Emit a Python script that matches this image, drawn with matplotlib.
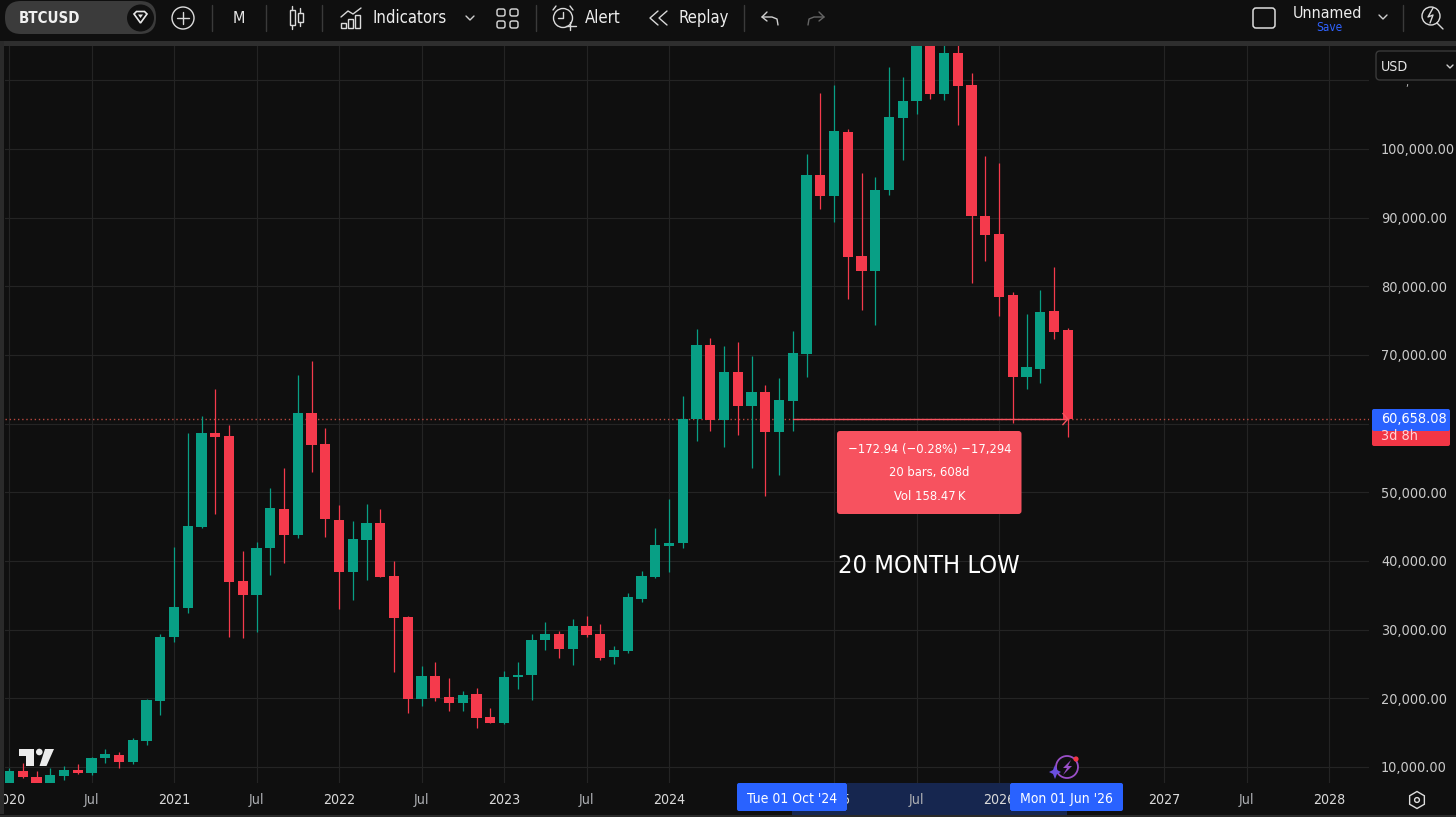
import matplotlib
matplotlib.use("Agg")
import matplotlib.pyplot as plt
from matplotlib.patches import Rectangle, FancyBboxPatch, Circle, Polygon, RegularPolygon
from matplotlib.ticker import FixedLocator, FixedFormatter

plt.rcParams['font.family'] = ['DejaVu Sans']
plt.rcParams['font.stretch'] = 'condensed'

# ---- data: monthly BTCUSD candles, Jan 2020 .. Jun 2026 ----
opens = [7714, 9418, 8544, 7714, 8690, 9520, 9083, 11310, 11747, 10728, 13786, 19653,
         28884, 33194, 44987, 58674, 58150, 37125, 35043, 41843, 47521, 43779, 61586, 57029,
         45963, 38392, 43051, 45570, 37810, 31884, 19901, 23293, 20148, 19362, 20585, 17236,
         16450, 23060, 23352, 28491, 29365, 27181, 30530, 29365, 25972, 26890, 34504, 37664,
         42221, 42571, 60669, 71400, 60567, 67512, 62562, 64600, 58820, 63290, 70133, 96239,
         93181, 102412, 84402, 82261, 94011, 104537, 107013, 115700, 107989, 113915, 109299, 90269,
         87561, 78723, 66829, 67949, 76350, 73627]
highs = [9811, 10626, 9418, 9854, 10189, 10437, 11500, 12577, 12228, 14266, 19901, 29365,
         42076, 58587, 61106, 65037, 59795, 41450, 42804, 50579, 53491, 67075, 69114, 59315,
         48147, 45818, 48249, 47565, 40037, 31986, 24749, 25332, 22915, 21066, 21459, 18547,
         24021, 25244, 29321, 31156, 29802, 31505, 31986, 30821, 27618, 35291, 38538, 44755,
         49021, 64018, 73773, 72419, 71298, 71924, 69885, 65619, 66595, 73482, 99253, 108178,
         109299, 102849, 96443, 95860, 111876, 110507, 119000, 124400, 117900, 126000, 111003, 98962,
         97899, 79204, 75957, 79451, 82756, 73875]
lows = [7670, 8450, 7670, 7700, 8107, 8981, 8879, 10539, 9898, 10437, 13160, 17615,
        28156, 32379, 44842, 46837, 28884, 28739, 29700, 37955, 39746, 43299, 52996, 43444,
        32961, 34315, 37227, 37664, 23876, 17819, 18925, 19566, 18197, 18197, 15635, 16363,
        16261, 21357, 19755, 27035, 25914, 24851, 28972, 25579, 24997, 26642, 34068, 37500,
        38436, 41843, 57466, 58965, 56635, 58339, 53491, 49501, 52515, 58922, 66829, 91245,
        89308, 78097, 76539, 74355, 93283, 98379, 105077, 107217, 107115, 103432, 80427, 83717,
        75666, 60042, 64993, 65867, 72317, 58092]
closes = [9418, 8500, 7670, 8835, 9520, 9083, 11310, 11893, 10772, 13931, 19755, 28972,
          33296, 45133, 58674, 58004, 36980, 35043, 41843, 47667, 43779, 61586, 56883, 46109,
          38392, 43197, 45570, 37664, 31738, 19901, 23293, 20046, 19362, 20527, 17134, 16450,
          23148, 23439, 28535, 29365, 27181, 30530, 29219, 25914, 27035, 34752, 37810, 42367,
          42614, 60712, 71400, 60523, 67512, 62562, 64600, 58820, 63392, 70278, 96239, 93181,
          102602, 84212, 82261, 94011, 104640, 107013, 115700, 107989, 113915, 109197, 90226, 87416,
          78432, 66784, 68197, 76204, 73380, 60658]

x_tick_months = [0, 6, 12, 18, 24, 30, 36, 42, 48, 60, 66, 72, 84, 90, 96]
x_tick_labels = ['2020', 'Jul', '2021', 'Jul', '2022', 'Jul', '2023', 'Jul', '2024',
                 '2025', 'Jul', '2026', '2027', 'Jul', '2028']
price_ticks = [10000, 20000, 30000, 40000, 50000, 60000, 70000, 80000, 90000, 100000, 110000]
price_labels = ['10,000.00', '20,000.00', '30,000.00', '40,000.00', '50,000.00', '',
                '70,000.00', '80,000.00', '90,000.00', '100,000.00', '']
last_price = 60658.08
measure_start = 57
measure_end = 77

BG = '#0f0f0f'
GREEN = '#089f85'
RED = '#f53a4c'
GRID = '#242424'
W, H = 1456, 817

fig = plt.figure(figsize=(W / 100, H / 100), dpi=100, facecolor=BG)

# pixel-to-data frame of the chart pane
PX0, PX1, PY0, PY1 = 5, 1369, 45.5, 783
step = 13.75
x_at = 9
ppp = 145.6
ax = fig.add_axes([PX0 / W, 1 - PY1 / H, (PX1 - PX0) / W, (PY1 - PY0) / H], facecolor=BG)
ax.set_xlim((PX0 - x_at) / step, (PX1 - x_at) / step)
ax.set_ylim(10000 + (767 - PY1) * ppp, 10000 + (767 - PY0) * ppp)
for s in ax.spines.values():
    s.set_visible(False)

ax.xaxis.set_major_locator(FixedLocator(x_tick_months))
ax.xaxis.set_major_formatter(FixedFormatter(x_tick_labels))
ax.yaxis.set_major_locator(FixedLocator(price_ticks))
ax.yaxis.set_major_formatter(FixedFormatter(price_labels))
ax.yaxis.tick_right()
ax.tick_params(axis='y', length=0, pad=8.6, labelsize=10.4, labelcolor='#cacaca')
ax.tick_params(axis='x', length=0, pad=7.5, labelsize=10.2)
for lab in ax.get_xticklabels():
    lab.set_color('#aeb0b4' if lab.get_text() == 'Jul' else '#dadada')
ax.grid(True, color=GRID, lw=0.8)
ax.set_axisbelow(True)

months = list(range(len(opens)))
colors = [GREEN if c >= o else RED for o, c in zip(opens, closes)]
ax.vlines(months, lows, highs, colors=colors, lw=0.9, zorder=3)
ax.bar(months, [c - o for o, c in zip(opens, closes)], bottom=opens, width=0.76,
       color=colors, linewidth=0, zorder=4)

# last price dotted line and measure line
ax.axhline(last_price, color='#b8483f', lw=1.0, ls=(0, (1, 2)), zorder=2)
ax.plot([measure_start, measure_end], [last_price, last_price], color='#f7525f', lw=1.0, zorder=5)
ax.plot([measure_end - 0.35, measure_end, measure_end - 0.35],
        [last_price + 800, last_price, last_price - 800], color='#f7525f', lw=1.0, zorder=5)

# ---- interface overlay in pixel coordinates ----
ui = fig.add_axes([0, 0, 1, 1], facecolor='none', zorder=10)
ui.set_xlim(0, W)
ui.set_ylim(H, 0)
ui.axis('off')


def rect(x0, y0, x1, y1, c, z=1, **kw):
    ui.add_patch(Rectangle((x0, y0), x1 - x0, y1 - y0, facecolor=c, edgecolor='none', zorder=z, **kw))


def rbox(x0, y0, x1, y1, r, fc, ec='none', lw=0, z=2):
    ui.add_patch(FancyBboxPatch((x0 + r, y0 + r), x1 - x0 - 2 * r, y1 - y0 - 2 * r,
                                boxstyle=f'round,pad={r},rounding_size={r}',
                                facecolor=fc, edgecolor=ec, linewidth=lw, zorder=z))


def txt(x, y, s, size=10, c='#e6e6e6', ha='left', z=6, **kw):
    ui.text(x, y, s, fontsize=size, color=c, ha=ha, va='center', zorder=z, **kw)


def line(xs, ys, c='#d8d8d8', lw=1.0, z=5):
    ui.plot(xs, ys, color=c, lw=lw, zorder=z, solid_capstyle='round', solid_joinstyle='round')


# frame
rect(0, 0, W, 41, BG)
rect(0, 41, W, 45.5, '#2e2e2e')
rect(0, 41, 4, 814, '#2a2a2a')
rect(0, 815, W, 817, '#2a2a2a')

# symbol pill
rbox(5, 1, 156, 34, 16, '#3b3b3b')
txt(19, 18, 'BTCUSD', 10.8, '#f0f0f0', weight='bold')
ui.add_patch(Circle((140.5, 18), 13.5, facecolor='#101010', zorder=3))
ui.add_patch(Polygon([(134, 14), (136.5, 11.5), (144.5, 11.5), (147, 14), (140.5, 23)], closed=True,
                     facecolor='none', edgecolor='#e8e8e8', lw=1.2, zorder=5))
ui.add_patch(Polygon([(138, 14.5), (143, 14.5), (140.5, 18)], closed=True, facecolor='#e8e8e8', zorder=5))

# plus
ui.add_patch(Circle((183, 18), 11, facecolor='none', edgecolor='#dcdcdc', lw=1.0, zorder=5))
line([177, 189], [18, 18])
line([183, 183], [12, 24])

for xs in (212, 266, 322, 536, 744, 1403):
    line([xs, xs], [5, 31], '#3a3a3a', 1.0)

txt(239, 18, 'M', 11.5, '#e6e6e6', ha='center')

# candle icon
ui.add_patch(Rectangle((289.5, 10), 5, 15, facecolor='none', edgecolor='#dcdcdc', lw=1, zorder=5))
line([292, 292], [6, 10])
line([292, 292], [25, 29])
ui.add_patch(Rectangle((297.5, 13), 5, 9, facecolor='none', edgecolor='#dcdcdc', lw=1, zorder=5))
line([300, 300], [8, 13])
line([300, 300], [22, 26])

# indicators icon
line([341, 348, 353, 361], [17, 11, 14, 8])
for x0, y0 in ((341, 23), (348, 19), (355, 15)):
    ui.add_patch(Rectangle((x0, y0), 5, 28 - y0, facecolor='none', edgecolor='#dcdcdc', lw=1, zorder=5))
txt(372, 18, 'Indicators', 12, '#ededed')
line([466, 470, 474], [16, 20, 16], '#cfcfcf')

# layouts icon
for x0 in (497, 510):
    for y0 in (9, 21):
        ui.add_patch(FancyBboxPatch((x0 + 1.5, y0 + 1.5), 5, 4, boxstyle='round,pad=1.5,rounding_size=2',
                                    facecolor='none', edgecolor='#dcdcdc', lw=1, zorder=5))

# alert icon
ui.add_patch(Circle((563, 18), 9.5, facecolor='none', edgecolor='#dcdcdc', lw=1, zorder=5))
line([563, 563, 558], [12, 18, 18])
line([553, 556], [10, 6])
line([573, 570], [10, 6])
line([570, 570], [22, 30])
line([566, 576], [26, 26])
txt(585, 18, 'Alert', 12, '#ededed')

# replay icon
line([658, 650, 658], [11, 18, 25])
line([667, 659, 667], [11, 18, 25])
txt(678, 18, 'Replay', 12, '#ededed')

# undo / redo
line([767, 762, 767], [12, 17, 21], '#d0d0d0')
line([762, 772, 777, 778], [17, 17, 19, 25], '#d0d0d0')
line([819, 824, 819], [12, 17, 21], '#666666')
line([824, 814, 809, 808], [17, 17, 19, 25], '#666666')

# right of toolbar
rbox(1253, 8, 1275, 28, 3, 'none', '#dcdcdc', 1.1, z=5)
txt(1293, 13, 'Unnamed', 11.5, '#ededed')
txt(1316, 27.5, 'Save', 8.5, '#2f62ff')
line([1379, 1383, 1387], [15, 19, 15], '#cfcfcf')
ui.add_patch(Circle((1431, 16), 9, facecolor='none', edgecolor='#dcdcdc', lw=1, zorder=5))
line([1437, 1443], [23, 29])
line([1433, 1428, 1433, 1430], [8, 17, 15, 23])

# USD selector
rbox(1376, 51, 1470, 80, 4, BG, '#3a3a3a', 1.0, z=3)
txt(1381, 66.5, 'USD', 10.2, '#e6e6e6')
line([1447, 1450, 1453], [65, 68, 65], '#cfcfcf')
txt(1407, 83, ',', 8, '#c4c4c4', ha='center')

# last price label
rbox(1372, 428, 1450, 446, 2, '#f23645', z=3)
rbox(1372, 409, 1450, 431, 2, '#2962ff', z=4)
txt(1381, 419, '60,658.08', 10.4, '#ffffff')
txt(1381, 436, '3d 8h', 10.4, '#ffd5d8')

# measure result box
rbox(837, 431, 1021.5, 514, 3, '#f7525f', z=3)
txt(929.5, 449, '\u2212172.94 (\u22120.28%) \u221217,294', 9.3, '#ffffff', ha='center')
txt(929.5, 472, '20 bars, 608d', 9.3, '#ffffff', ha='center')
txt(929.5, 496, 'Vol 158.47\u2009K', 9.3, '#ffffff', ha='center')

txt(838, 566, '20 MONTH LOW', 18.3, '#ffffff')

# time axis highlights: band sits under the tick labels, date flags above them
ax.add_patch(Rectangle((847, 783), 163, 28, transform=ui.transData, facecolor='#16264f',
                       edgecolor='none', clip_on=False, zorder=0.1))
rect(792, 811, 1067, 815, '#16264f', z=2)
rbox(737, 783, 847, 811, 2, '#2962ff', z=3)
rbox(1010, 783, 1123, 811, 2, '#2962ff', z=3)
txt(792.5, 799, "Tue 01 Oct '24", 10, '#ffffff', ha='center')
txt(1066.5, 799, "Mon 01 Jun '26", 10, '#ffffff', ha='center')

# TradingView logo
LOGO = '#ececec'
ui.add_patch(Polygon([(19, 749), (34, 749), (34, 766), (26, 766), (26, 755.5), (19, 755.5)],
                     closed=True, facecolor=LOGO, zorder=5))
ui.add_patch(Circle((39.3, 752), 3.3, facecolor=LOGO, zorder=5))
ui.add_patch(Polygon([(45, 749), (54, 749), (46.5, 766), (39.5, 766)], closed=True, facecolor=LOGO, zorder=5))

# assistant icon
PUR = '#9a4fc7'
ui.add_patch(Circle((1067, 767), 11, facecolor=BG, edgecolor=PUR, lw=1.3, zorder=5))
ui.add_patch(Polygon([(1071, 760), (1063, 768), (1067, 768), (1063, 775), (1072, 766), (1068, 766)],
                     closed=True, facecolor=PUR, zorder=6))
ui.add_patch(Polygon([(1055, 765), (1057, 770), (1061, 772), (1057, 774), (1055, 779), (1053, 774),
                      (1049, 772), (1053, 770)], closed=True, facecolor='#6a4fe0', zorder=6))
ui.add_patch(Circle((1076, 759), 2.6, facecolor='#f23645', zorder=7))

# settings icon
ui.add_patch(RegularPolygon((1417, 800), 6, radius=8.5, orientation=0.0, facecolor='none',
                            edgecolor='#dcdcdc', lw=1.0, zorder=5))
ui.add_patch(Circle((1417, 800), 2.4, facecolor='none', edgecolor='#dcdcdc', lw=1.0, zorder=5))

fig.savefig('out.png', dpi=100, facecolor=BG)
